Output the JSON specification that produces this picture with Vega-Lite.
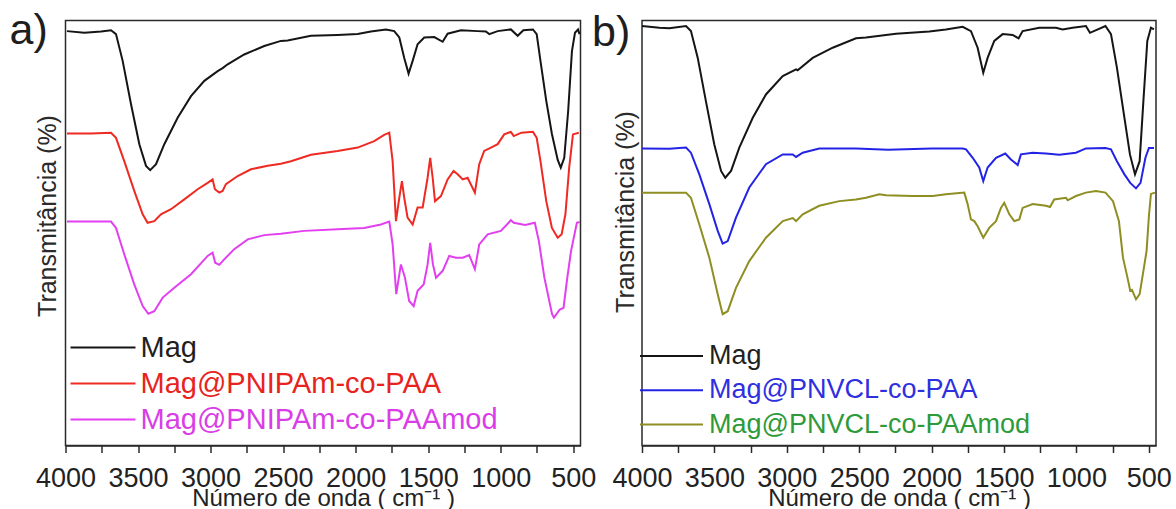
{
  "$schema": "https://vega.github.io/schema/vega-lite/v6.json",
  "background": "white",
  "padding": {"left": 8.5, "top": 8.5, "right": 0, "bottom": 0},
  "spacing": 61.5,
  "bounds": "flush",
  "resolve": {"scale": {"color": "independent"}, "legend": {"color": "independent"}},
  "config": {
    "font": "Liberation Sans",
    "view": {"stroke": "#2a2a2a", "strokeWidth": 1.5},
    "title": {"fontWeight": "normal"},
    "axisX": {
      "format": "d",
      "grid": false,
      "labelFlush": false,
      "labelOverlap": false,
      "labelBound": false,
      "labelFontSize": 27,
      "labelColor": "#222222",
      "tickSize": 7,
      "tickWidth": 1.5,
      "tickColor": "#2a2a2a",
      "domainColor": "#2a2a2a",
      "domainWidth": 1.5,
      "titleFontSize": 24,
      "titleFontWeight": "normal",
      "titleColor": "#222222"
    },
    "axisY": {
      "labels": false,
      "ticks": false,
      "domain": false,
      "grid": false,
      "titleFontSize": 25,
      "titleFontWeight": "normal",
      "titleColor": "#2a2a2a",
      "titlePadding": 5
    },
    "legend": {
      "title": null,
      "orient": "none",
      "symbolType": "M-3,0H3",
      "symbolStrokeWidth": 2,
      "padding": 0,
      "labelLimit": 700
    }
  },
  "hconcat": [
    {
      "width": 515,
      "height": 425,
      "title": {"text": "a)", "anchor": "start", "frame": "group", "align": "left", "baseline": "alphabetic", "offset": -34, "dx": -56, "dy": 32, "fontSize": 43, "color": "#1e1e1e"},
      "data": {"values": [
        {"amostra": "Mag", "onda": 3990, "T": 97.5}, {"amostra": "Mag", "onda": 3870, "T": 97.1}, {"amostra": "Mag", "onda": 3755, "T": 97.4}, {"amostra": "Mag", "onda": 3686, "T": 97.7}, {"amostra": "Mag", "onda": 3652, "T": 96.8}, {"amostra": "Mag", "onda": 3606, "T": 90.5}, {"amostra": "Mag", "onda": 3549, "T": 80.4}, {"amostra": "Mag", "onda": 3491, "T": 70.9}, {"amostra": "Mag", "onda": 3445, "T": 65.8}, {"amostra": "Mag", "onda": 3416, "T": 64.8}, {"amostra": "Mag", "onda": 3376, "T": 66.2}, {"amostra": "Mag", "onda": 3319, "T": 70.9}, {"amostra": "Mag", "onda": 3227, "T": 77.1}, {"amostra": "Mag", "onda": 3135, "T": 82.2}, {"amostra": "Mag", "onda": 3043, "T": 85.8}, {"amostra": "Mag", "onda": 2951, "T": 88.1}, {"amostra": "Mag", "onda": 2917, "T": 88.8}, {"amostra": "Mag", "onda": 2882, "T": 89.7}, {"amostra": "Mag", "onda": 2768, "T": 92.0}, {"amostra": "Mag", "onda": 2630, "T": 94.0}, {"amostra": "Mag", "onda": 2515, "T": 95.2}, {"amostra": "Mag", "onda": 2469, "T": 95.3}, {"amostra": "Mag", "onda": 2308, "T": 96.4}, {"amostra": "Mag", "onda": 2124, "T": 96.6}, {"amostra": "Mag", "onda": 1986, "T": 96.8}, {"amostra": "Mag", "onda": 1895, "T": 97.4}, {"amostra": "Mag", "onda": 1791, "T": 97.9}, {"amostra": "Mag", "onda": 1734, "T": 97.5}, {"amostra": "Mag", "onda": 1699, "T": 96.0}, {"amostra": "Mag", "onda": 1665, "T": 91.2}, {"amostra": "Mag", "onda": 1635, "T": 87.5}, {"amostra": "Mag", "onda": 1607, "T": 90.5}, {"amostra": "Mag", "onda": 1573, "T": 94.4}, {"amostra": "Mag", "onda": 1527, "T": 96.0}, {"amostra": "Mag", "onda": 1458, "T": 96.1}, {"amostra": "Mag", "onda": 1400, "T": 95.0}, {"amostra": "Mag", "onda": 1366, "T": 96.9}, {"amostra": "Mag", "onda": 1274, "T": 97.7}, {"amostra": "Mag", "onda": 1159, "T": 97.5}, {"amostra": "Mag", "onda": 1102, "T": 97.4}, {"amostra": "Mag", "onda": 1079, "T": 96.8}, {"amostra": "Mag", "onda": 1021, "T": 97.5}, {"amostra": "Mag", "onda": 930, "T": 97.9}, {"amostra": "Mag", "onda": 883, "T": 96.4}, {"amostra": "Mag", "onda": 844, "T": 97.7}, {"amostra": "Mag", "onda": 778, "T": 97.9}, {"amostra": "Mag", "onda": 752, "T": 96.8}, {"amostra": "Mag", "onda": 726, "T": 90.5}, {"amostra": "Mag", "onda": 686, "T": 81.1}, {"amostra": "Mag", "onda": 647, "T": 73.3}, {"amostra": "Mag", "onda": 607, "T": 67.2}, {"amostra": "Mag", "onda": 586, "T": 65.4}, {"amostra": "Mag", "onda": 562, "T": 67.7}, {"amostra": "Mag", "onda": 535, "T": 78.7}, {"amostra": "Mag", "onda": 509, "T": 92.8}, {"amostra": "Mag", "onda": 488, "T": 97.1}, {"amostra": "Mag", "onda": 467, "T": 97.9}, {"amostra": "Mag", "onda": 457, "T": 96.8},

        {"amostra": "Mag@PNIPAm-co-PAA", "onda": 3990, "T": 73.4}, {"amostra": "Mag@PNIPAm-co-PAA", "onda": 3824, "T": 73.4}, {"amostra": "Mag@PNIPAm-co-PAA", "onda": 3686, "T": 73.6}, {"amostra": "Mag@PNIPAm-co-PAA", "onda": 3652, "T": 72.4}, {"amostra": "Mag@PNIPAm-co-PAA", "onda": 3595, "T": 66.9}, {"amostra": "Mag@PNIPAm-co-PAA", "onda": 3526, "T": 59.9}, {"amostra": "Mag@PNIPAm-co-PAA", "onda": 3468, "T": 54.4}, {"amostra": "Mag@PNIPAm-co-PAA", "onda": 3434, "T": 52.4}, {"amostra": "Mag@PNIPAm-co-PAA", "onda": 3388, "T": 52.8}, {"amostra": "Mag@PNIPAm-co-PAA", "onda": 3342, "T": 54.4}, {"amostra": "Mag@PNIPAm-co-PAA", "onda": 3273, "T": 55.6}, {"amostra": "Mag@PNIPAm-co-PAA", "onda": 3181, "T": 57.9}, {"amostra": "Mag@PNIPAm-co-PAA", "onda": 3089, "T": 60.3}, {"amostra": "Mag@PNIPAm-co-PAA", "onda": 3020, "T": 61.8}, {"amostra": "Mag@PNIPAm-co-PAA", "onda": 2986, "T": 62.6}, {"amostra": "Mag@PNIPAm-co-PAA", "onda": 2970, "T": 60.3}, {"amostra": "Mag@PNIPAm-co-PAA", "onda": 2940, "T": 59.5}, {"amostra": "Mag@PNIPAm-co-PAA", "onda": 2917, "T": 59.9}, {"amostra": "Mag@PNIPAm-co-PAA", "onda": 2894, "T": 61.5}, {"amostra": "Mag@PNIPAm-co-PAA", "onda": 2813, "T": 63.4}, {"amostra": "Mag@PNIPAm-co-PAA", "onda": 2722, "T": 65.0}, {"amostra": "Mag@PNIPAm-co-PAA", "onda": 2606, "T": 65.8}, {"amostra": "Mag@PNIPAm-co-PAA", "onda": 2515, "T": 66.3}, {"amostra": "Mag@PNIPAm-co-PAA", "onda": 2446, "T": 66.9}, {"amostra": "Mag@PNIPAm-co-PAA", "onda": 2308, "T": 68.4}, {"amostra": "Mag@PNIPAm-co-PAA", "onda": 2124, "T": 69.3}, {"amostra": "Mag@PNIPAm-co-PAA", "onda": 1986, "T": 70.1}, {"amostra": "Mag@PNIPAm-co-PAA", "onda": 1872, "T": 71.6}, {"amostra": "Mag@PNIPAm-co-PAA", "onda": 1803, "T": 73.1}, {"amostra": "Mag@PNIPAm-co-PAA", "onda": 1768, "T": 73.6}, {"amostra": "Mag@PNIPAm-co-PAA", "onda": 1745, "T": 66.9}, {"amostra": "Mag@PNIPAm-co-PAA", "onda": 1722, "T": 52.8}, {"amostra": "Mag@PNIPAm-co-PAA", "onda": 1699, "T": 58.3}, {"amostra": "Mag@PNIPAm-co-PAA", "onda": 1681, "T": 62.2}, {"amostra": "Mag@PNIPAm-co-PAA", "onda": 1665, "T": 58.3}, {"amostra": "Mag@PNIPAm-co-PAA", "onda": 1642, "T": 53.6}, {"amostra": "Mag@PNIPAm-co-PAA", "onda": 1607, "T": 52.0}, {"amostra": "Mag@PNIPAm-co-PAA", "onda": 1573, "T": 56.0}, {"amostra": "Mag@PNIPAm-co-PAA", "onda": 1538, "T": 56.0}, {"amostra": "Mag@PNIPAm-co-PAA", "onda": 1504, "T": 63.0}, {"amostra": "Mag@PNIPAm-co-PAA", "onda": 1486, "T": 67.7}, {"amostra": "Mag@PNIPAm-co-PAA", "onda": 1469, "T": 63.0}, {"amostra": "Mag@PNIPAm-co-PAA", "onda": 1453, "T": 57.5}, {"amostra": "Mag@PNIPAm-co-PAA", "onda": 1412, "T": 58.7}, {"amostra": "Mag@PNIPAm-co-PAA", "onda": 1366, "T": 62.6}, {"amostra": "Mag@PNIPAm-co-PAA", "onda": 1325, "T": 64.6}, {"amostra": "Mag@PNIPAm-co-PAA", "onda": 1297, "T": 63.8}, {"amostra": "Mag@PNIPAm-co-PAA", "onda": 1262, "T": 62.6}, {"amostra": "Mag@PNIPAm-co-PAA", "onda": 1228, "T": 63.0}, {"amostra": "Mag@PNIPAm-co-PAA", "onda": 1178, "T": 59.5}, {"amostra": "Mag@PNIPAm-co-PAA", "onda": 1148, "T": 66.2}, {"amostra": "Mag@PNIPAm-co-PAA", "onda": 1114, "T": 69.3}, {"amostra": "Mag@PNIPAm-co-PAA", "onda": 1067, "T": 70.1}, {"amostra": "Mag@PNIPAm-co-PAA", "onda": 1021, "T": 70.9}, {"amostra": "Mag@PNIPAm-co-PAA", "onda": 976, "T": 73.2}, {"amostra": "Mag@PNIPAm-co-PAA", "onda": 930, "T": 73.8}, {"amostra": "Mag@PNIPAm-co-PAA", "onda": 910, "T": 72.8}, {"amostra": "Mag@PNIPAm-co-PAA", "onda": 857, "T": 73.6}, {"amostra": "Mag@PNIPAm-co-PAA", "onda": 778, "T": 73.8}, {"amostra": "Mag@PNIPAm-co-PAA", "onda": 752, "T": 72.4}, {"amostra": "Mag@PNIPAm-co-PAA", "onda": 726, "T": 66.9}, {"amostra": "Mag@PNIPAm-co-PAA", "onda": 686, "T": 57.5}, {"amostra": "Mag@PNIPAm-co-PAA", "onda": 647, "T": 51.2}, {"amostra": "Mag@PNIPAm-co-PAA", "onda": 607, "T": 48.9}, {"amostra": "Mag@PNIPAm-co-PAA", "onda": 580, "T": 49.7}, {"amostra": "Mag@PNIPAm-co-PAA", "onda": 554, "T": 54.4}, {"amostra": "Mag@PNIPAm-co-PAA", "onda": 528, "T": 65.4}, {"amostra": "Mag@PNIPAm-co-PAA", "onda": 502, "T": 73.2}, {"amostra": "Mag@PNIPAm-co-PAA", "onda": 462, "T": 73.6},

        {"amostra": "Mag@PNIPAm-co-PAAmod", "onda": 3990, "T": 52.7}, {"amostra": "Mag@PNIPAm-co-PAAmod", "onda": 3686, "T": 52.7}, {"amostra": "Mag@PNIPAm-co-PAAmod", "onda": 3652, "T": 51.2}, {"amostra": "Mag@PNIPAm-co-PAAmod", "onda": 3595, "T": 45.0}, {"amostra": "Mag@PNIPAm-co-PAAmod", "onda": 3526, "T": 37.9}, {"amostra": "Mag@PNIPAm-co-PAAmod", "onda": 3468, "T": 32.8}, {"amostra": "Mag@PNIPAm-co-PAAmod", "onda": 3429, "T": 31.0}, {"amostra": "Mag@PNIPAm-co-PAAmod", "onda": 3388, "T": 31.6}, {"amostra": "Mag@PNIPAm-co-PAAmod", "onda": 3330, "T": 34.8}, {"amostra": "Mag@PNIPAm-co-PAAmod", "onda": 3250, "T": 37.1}, {"amostra": "Mag@PNIPAm-co-PAAmod", "onda": 3135, "T": 40.3}, {"amostra": "Mag@PNIPAm-co-PAAmod", "onda": 3020, "T": 44.6}, {"amostra": "Mag@PNIPAm-co-PAAmod", "onda": 2986, "T": 45.4}, {"amostra": "Mag@PNIPAm-co-PAAmod", "onda": 2968, "T": 43.0}, {"amostra": "Mag@PNIPAm-co-PAAmod", "onda": 2940, "T": 42.5}, {"amostra": "Mag@PNIPAm-co-PAAmod", "onda": 2906, "T": 43.8}, {"amostra": "Mag@PNIPAm-co-PAAmod", "onda": 2837, "T": 46.2}, {"amostra": "Mag@PNIPAm-co-PAAmod", "onda": 2744, "T": 48.5}, {"amostra": "Mag@PNIPAm-co-PAAmod", "onda": 2630, "T": 49.5}, {"amostra": "Mag@PNIPAm-co-PAAmod", "onda": 2515, "T": 49.8}, {"amostra": "Mag@PNIPAm-co-PAAmod", "onda": 2354, "T": 50.5}, {"amostra": "Mag@PNIPAm-co-PAAmod", "onda": 2124, "T": 50.9}, {"amostra": "Mag@PNIPAm-co-PAAmod", "onda": 1941, "T": 51.2}, {"amostra": "Mag@PNIPAm-co-PAAmod", "onda": 1826, "T": 52.0}, {"amostra": "Mag@PNIPAm-co-PAAmod", "onda": 1768, "T": 52.7}, {"amostra": "Mag@PNIPAm-co-PAAmod", "onda": 1745, "T": 47.3}, {"amostra": "Mag@PNIPAm-co-PAAmod", "onda": 1720, "T": 35.6}, {"amostra": "Mag@PNIPAm-co-PAAmod", "onda": 1688, "T": 42.6}, {"amostra": "Mag@PNIPAm-co-PAAmod", "onda": 1660, "T": 39.5}, {"amostra": "Mag@PNIPAm-co-PAAmod", "onda": 1631, "T": 34.0}, {"amostra": "Mag@PNIPAm-co-PAAmod", "onda": 1600, "T": 32.8}, {"amostra": "Mag@PNIPAm-co-PAAmod", "onda": 1573, "T": 36.4}, {"amostra": "Mag@PNIPAm-co-PAAmod", "onda": 1531, "T": 37.9}, {"amostra": "Mag@PNIPAm-co-PAAmod", "onda": 1504, "T": 42.6}, {"amostra": "Mag@PNIPAm-co-PAAmod", "onda": 1486, "T": 47.7}, {"amostra": "Mag@PNIPAm-co-PAAmod", "onda": 1467, "T": 42.6}, {"amostra": "Mag@PNIPAm-co-PAAmod", "onda": 1446, "T": 39.5}, {"amostra": "Mag@PNIPAm-co-PAAmod", "onda": 1400, "T": 41.1}, {"amostra": "Mag@PNIPAm-co-PAAmod", "onda": 1355, "T": 44.6}, {"amostra": "Mag@PNIPAm-co-PAAmod", "onda": 1309, "T": 44.2}, {"amostra": "Mag@PNIPAm-co-PAAmod", "onda": 1262, "T": 44.2}, {"amostra": "Mag@PNIPAm-co-PAAmod", "onda": 1217, "T": 44.8}, {"amostra": "Mag@PNIPAm-co-PAAmod", "onda": 1178, "T": 41.5}, {"amostra": "Mag@PNIPAm-co-PAAmod", "onda": 1148, "T": 47.3}, {"amostra": "Mag@PNIPAm-co-PAAmod", "onda": 1090, "T": 49.7}, {"amostra": "Mag@PNIPAm-co-PAAmod", "onda": 999, "T": 50.5}, {"amostra": "Mag@PNIPAm-co-PAAmod", "onda": 930, "T": 53.0}, {"amostra": "Mag@PNIPAm-co-PAAmod", "onda": 910, "T": 52.4}, {"amostra": "Mag@PNIPAm-co-PAAmod", "onda": 831, "T": 51.9}, {"amostra": "Mag@PNIPAm-co-PAAmod", "onda": 765, "T": 52.4}, {"amostra": "Mag@PNIPAm-co-PAAmod", "onda": 737, "T": 48.1}, {"amostra": "Mag@PNIPAm-co-PAAmod", "onda": 699, "T": 39.5}, {"amostra": "Mag@PNIPAm-co-PAAmod", "onda": 646, "T": 30.9}, {"amostra": "Mag@PNIPAm-co-PAAmod", "onda": 633, "T": 30.1}, {"amostra": "Mag@PNIPAm-co-PAAmod", "onda": 593, "T": 32.0}, {"amostra": "Mag@PNIPAm-co-PAAmod", "onda": 567, "T": 32.4}, {"amostra": "Mag@PNIPAm-co-PAAmod", "onda": 541, "T": 39.5}, {"amostra": "Mag@PNIPAm-co-PAAmod", "onda": 515, "T": 45.8}, {"amostra": "Mag@PNIPAm-co-PAAmod", "onda": 475, "T": 52.4}, {"amostra": "Mag@PNIPAm-co-PAAmod", "onda": 455, "T": 52.6}
      ]},
      "mark": {"type": "line", "strokeWidth": 2},
      "encoding": {
        "x": {
          "field": "onda", "type": "quantitative", "scale": {"domain": [4000, 450], "nice": false, "zero": false},
          "axis": {
            "title": "Número de onda ( cm⁻¹ )",
            "values": [4000, 3750, 3500, 3250, 3000, 2750, 2500, 2250, 2000, 1750, 1500, 1250, 1000, 750, 500],
            "labelExpr": "datum.value % 500 === 0 ? datum.label : ''",
            "labelOverlap": false,
            "labelPadding": 13,
            "titlePadding": -5,
            "encode": {"ticks": {"update": {"y2": {"signal": "datum.value % 500 === 0 ? 7 : 4"}}}}
          }
        },
        "y": {"field": "T", "type": "quantitative", "scale": {"domain": [0, 100], "nice": false}, "axis": {"title": "Transmitância (%)", "titleY": 195}},
        "color": {
          "field": "amostra", "type": "nominal",
          "scale": {"domain": ["Mag", "Mag@PNIPAm-co-PAA", "Mag@PNIPAm-co-PAAmod"], "range": ["#151515", "#ee2a22", "#e23ff0"]},
          "legend": {
            "legendX": 23, "legendY": 312.5, "symbolSize": 469, "labelFontSize": 29, "labelOffset": 23, "rowPadding": 6,
            "encode": {"labels": {"update": {"fill": {"signal": "datum.value === 'Mag' ? '#1f1f1f' : datum.value === 'Mag@PNIPAm-co-PAA' ? '#e8231d' : '#d93ee6'"}}}}
          }
        }
      }
    },
    {
      "width": 514,
      "height": 425,
      "title": {"text": "b)", "anchor": "start", "frame": "group", "align": "left", "baseline": "alphabetic", "offset": -34, "dx": -50, "dy": 34, "fontSize": 43, "color": "#1e1e1e"},
      "data": {"values": [
        {"amostra": "Mag", "onda": 4000, "T": 98.7}, {"amostra": "Mag", "onda": 3880, "T": 98.3}, {"amostra": "Mag", "onda": 3811, "T": 98.2}, {"amostra": "Mag", "onda": 3696, "T": 98.7}, {"amostra": "Mag", "onda": 3662, "T": 97.5}, {"amostra": "Mag", "onda": 3615, "T": 91.2}, {"amostra": "Mag", "onda": 3558, "T": 80.9}, {"amostra": "Mag", "onda": 3501, "T": 70.9}, {"amostra": "Mag", "onda": 3454, "T": 64.6}, {"amostra": "Mag", "onda": 3425, "T": 63.0}, {"amostra": "Mag", "onda": 3385, "T": 64.6}, {"amostra": "Mag", "onda": 3328, "T": 70.1}, {"amostra": "Mag", "onda": 3235, "T": 77.1}, {"amostra": "Mag", "onda": 3144, "T": 82.6}, {"amostra": "Mag", "onda": 3028, "T": 86.9}, {"amostra": "Mag", "onda": 2936, "T": 88.5}, {"amostra": "Mag", "onda": 2925, "T": 88.3}, {"amostra": "Mag", "onda": 2821, "T": 91.2}, {"amostra": "Mag", "onda": 2683, "T": 93.6}, {"amostra": "Mag", "onda": 2522, "T": 95.8}, {"amostra": "Mag", "onda": 2453, "T": 96.0}, {"amostra": "Mag", "onda": 2246, "T": 96.9}, {"amostra": "Mag", "onda": 2016, "T": 97.4}, {"amostra": "Mag", "onda": 1901, "T": 97.9}, {"amostra": "Mag", "onda": 1785, "T": 98.5}, {"amostra": "Mag", "onda": 1728, "T": 97.5}, {"amostra": "Mag", "onda": 1682, "T": 93.6}, {"amostra": "Mag", "onda": 1643, "T": 87.7}, {"amostra": "Mag", "onda": 1613, "T": 91.2}, {"amostra": "Mag", "onda": 1567, "T": 95.2}, {"amostra": "Mag", "onda": 1509, "T": 96.8}, {"amostra": "Mag", "onda": 1440, "T": 96.6}, {"amostra": "Mag", "onda": 1399, "T": 95.8}, {"amostra": "Mag", "onda": 1371, "T": 97.5}, {"amostra": "Mag", "onda": 1256, "T": 98.3}, {"amostra": "Mag", "onda": 1141, "T": 98.3}, {"amostra": "Mag", "onda": 1095, "T": 97.9}, {"amostra": "Mag", "onda": 1026, "T": 98.3}, {"amostra": "Mag", "onda": 934, "T": 98.7}, {"amostra": "Mag", "onda": 906, "T": 97.1}, {"amostra": "Mag", "onda": 799, "T": 98.7}, {"amostra": "Mag", "onda": 761, "T": 96.8}, {"amostra": "Mag", "onda": 720, "T": 88.9}, {"amostra": "Mag", "onda": 668, "T": 77.1}, {"amostra": "Mag", "onda": 630, "T": 68.5}, {"amostra": "Mag", "onda": 595, "T": 63.8}, {"amostra": "Mag", "onda": 563, "T": 66.9}, {"amostra": "Mag", "onda": 537, "T": 81.1}, {"amostra": "Mag", "onda": 510, "T": 95.2}, {"amostra": "Mag", "onda": 485, "T": 98.3}, {"amostra": "Mag", "onda": 464, "T": 97.9},

        {"amostra": "Mag@PNVCL-co-PAA", "onda": 4000, "T": 69.9}, {"amostra": "Mag@PNVCL-co-PAA", "onda": 3811, "T": 69.8}, {"amostra": "Mag@PNVCL-co-PAA", "onda": 3696, "T": 70.1}, {"amostra": "Mag@PNVCL-co-PAA", "onda": 3662, "T": 68.9}, {"amostra": "Mag@PNVCL-co-PAA", "onda": 3604, "T": 63.8}, {"amostra": "Mag@PNVCL-co-PAA", "onda": 3535, "T": 56.8}, {"amostra": "Mag@PNVCL-co-PAA", "onda": 3477, "T": 50.5}, {"amostra": "Mag@PNVCL-co-PAA", "onda": 3443, "T": 47.5}, {"amostra": "Mag@PNVCL-co-PAA", "onda": 3408, "T": 48.1}, {"amostra": "Mag@PNVCL-co-PAA", "onda": 3351, "T": 53.6}, {"amostra": "Mag@PNVCL-co-PAA", "onda": 3259, "T": 60.7}, {"amostra": "Mag@PNVCL-co-PAA", "onda": 3144, "T": 66.2}, {"amostra": "Mag@PNVCL-co-PAA", "onda": 3028, "T": 68.5}, {"amostra": "Mag@PNVCL-co-PAA", "onda": 2959, "T": 68.5}, {"amostra": "Mag@PNVCL-co-PAA", "onda": 2936, "T": 67.9}, {"amostra": "Mag@PNVCL-co-PAA", "onda": 2890, "T": 68.9}, {"amostra": "Mag@PNVCL-co-PAA", "onda": 2776, "T": 69.9}, {"amostra": "Mag@PNVCL-co-PAA", "onda": 2522, "T": 69.9}, {"amostra": "Mag@PNVCL-co-PAA", "onda": 2300, "T": 69.6}, {"amostra": "Mag@PNVCL-co-PAA", "onda": 2000, "T": 69.9}, {"amostra": "Mag@PNVCL-co-PAA", "onda": 1785, "T": 69.9}, {"amostra": "Mag@PNVCL-co-PAA", "onda": 1762, "T": 69.7}, {"amostra": "Mag@PNVCL-co-PAA", "onda": 1716, "T": 67.7}, {"amostra": "Mag@PNVCL-co-PAA", "onda": 1671, "T": 65.4}, {"amostra": "Mag@PNVCL-co-PAA", "onda": 1643, "T": 62.2}, {"amostra": "Mag@PNVCL-co-PAA", "onda": 1613, "T": 65.4}, {"amostra": "Mag@PNVCL-co-PAA", "onda": 1555, "T": 67.7}, {"amostra": "Mag@PNVCL-co-PAA", "onda": 1491, "T": 68.7}, {"amostra": "Mag@PNVCL-co-PAA", "onda": 1452, "T": 67.3}, {"amostra": "Mag@PNVCL-co-PAA", "onda": 1405, "T": 66.0}, {"amostra": "Mag@PNVCL-co-PAA", "onda": 1383, "T": 68.5}, {"amostra": "Mag@PNVCL-co-PAA", "onda": 1302, "T": 68.9}, {"amostra": "Mag@PNVCL-co-PAA", "onda": 1210, "T": 68.7}, {"amostra": "Mag@PNVCL-co-PAA", "onda": 1118, "T": 68.4}, {"amostra": "Mag@PNVCL-co-PAA", "onda": 1003, "T": 68.9}, {"amostra": "Mag@PNVCL-co-PAA", "onda": 934, "T": 69.9}, {"amostra": "Mag@PNVCL-co-PAA", "onda": 799, "T": 70.0}, {"amostra": "Mag@PNVCL-co-PAA", "onda": 761, "T": 69.7}, {"amostra": "Mag@PNVCL-co-PAA", "onda": 720, "T": 66.9}, {"amostra": "Mag@PNVCL-co-PAA", "onda": 668, "T": 63.8}, {"amostra": "Mag@PNVCL-co-PAA", "onda": 628, "T": 61.8}, {"amostra": "Mag@PNVCL-co-PAA", "onda": 588, "T": 60.5}, {"amostra": "Mag@PNVCL-co-PAA", "onda": 557, "T": 61.8}, {"amostra": "Mag@PNVCL-co-PAA", "onda": 523, "T": 67.7}, {"amostra": "Mag@PNVCL-co-PAA", "onda": 499, "T": 70.0}, {"amostra": "Mag@PNVCL-co-PAA", "onda": 464, "T": 70.0},

        {"amostra": "Mag@PNVCL-co-PAAmod", "onda": 4000, "T": 59.5}, {"amostra": "Mag@PNVCL-co-PAAmod", "onda": 3696, "T": 59.5}, {"amostra": "Mag@PNVCL-co-PAAmod", "onda": 3662, "T": 58.3}, {"amostra": "Mag@PNVCL-co-PAAmod", "onda": 3604, "T": 52.0}, {"amostra": "Mag@PNVCL-co-PAAmod", "onda": 3535, "T": 44.2}, {"amostra": "Mag@PNVCL-co-PAAmod", "onda": 3477, "T": 35.6}, {"amostra": "Mag@PNVCL-co-PAAmod", "onda": 3443, "T": 30.9}, {"amostra": "Mag@PNVCL-co-PAAmod", "onda": 3408, "T": 31.6}, {"amostra": "Mag@PNVCL-co-PAAmod", "onda": 3351, "T": 37.1}, {"amostra": "Mag@PNVCL-co-PAAmod", "onda": 3259, "T": 43.4}, {"amostra": "Mag@PNVCL-co-PAAmod", "onda": 3144, "T": 48.9}, {"amostra": "Mag@PNVCL-co-PAAmod", "onda": 3028, "T": 52.8}, {"amostra": "Mag@PNVCL-co-PAAmod", "onda": 2959, "T": 53.5}, {"amostra": "Mag@PNVCL-co-PAAmod", "onda": 2936, "T": 52.8}, {"amostra": "Mag@PNVCL-co-PAAmod", "onda": 2890, "T": 54.4}, {"amostra": "Mag@PNVCL-co-PAAmod", "onda": 2776, "T": 56.4}, {"amostra": "Mag@PNVCL-co-PAAmod", "onda": 2637, "T": 57.5}, {"amostra": "Mag@PNVCL-co-PAAmod", "onda": 2522, "T": 57.9}, {"amostra": "Mag@PNVCL-co-PAAmod", "onda": 2453, "T": 58.3}, {"amostra": "Mag@PNVCL-co-PAAmod", "onda": 2361, "T": 59.1}, {"amostra": "Mag@PNVCL-co-PAAmod", "onda": 2315, "T": 58.9}, {"amostra": "Mag@PNVCL-co-PAAmod", "onda": 2131, "T": 58.7}, {"amostra": "Mag@PNVCL-co-PAAmod", "onda": 1992, "T": 58.7}, {"amostra": "Mag@PNVCL-co-PAAmod", "onda": 1901, "T": 59.1}, {"amostra": "Mag@PNVCL-co-PAAmod", "onda": 1774, "T": 59.5}, {"amostra": "Mag@PNVCL-co-PAAmod", "onda": 1751, "T": 56.8}, {"amostra": "Mag@PNVCL-co-PAAmod", "onda": 1728, "T": 53.2}, {"amostra": "Mag@PNVCL-co-PAAmod", "onda": 1705, "T": 52.8}, {"amostra": "Mag@PNVCL-co-PAAmod", "onda": 1682, "T": 51.6}, {"amostra": "Mag@PNVCL-co-PAAmod", "onda": 1643, "T": 48.9}, {"amostra": "Mag@PNVCL-co-PAAmod", "onda": 1602, "T": 51.2}, {"amostra": "Mag@PNVCL-co-PAAmod", "onda": 1555, "T": 52.8}, {"amostra": "Mag@PNVCL-co-PAAmod", "onda": 1521, "T": 55.9}, {"amostra": "Mag@PNVCL-co-PAAmod", "onda": 1498, "T": 57.1}, {"amostra": "Mag@PNVCL-co-PAAmod", "onda": 1463, "T": 54.4}, {"amostra": "Mag@PNVCL-co-PAAmod", "onda": 1429, "T": 52.8}, {"amostra": "Mag@PNVCL-co-PAAmod", "onda": 1394, "T": 53.2}, {"amostra": "Mag@PNVCL-co-PAAmod", "onda": 1371, "T": 55.9}, {"amostra": "Mag@PNVCL-co-PAAmod", "onda": 1302, "T": 56.8}, {"amostra": "Mag@PNVCL-co-PAAmod", "onda": 1210, "T": 56.4}, {"amostra": "Mag@PNVCL-co-PAAmod", "onda": 1182, "T": 56.1}, {"amostra": "Mag@PNVCL-co-PAAmod", "onda": 1153, "T": 57.9}, {"amostra": "Mag@PNVCL-co-PAAmod", "onda": 1072, "T": 58.3}, {"amostra": "Mag@PNVCL-co-PAAmod", "onda": 1060, "T": 57.7}, {"amostra": "Mag@PNVCL-co-PAAmod", "onda": 1003, "T": 58.7}, {"amostra": "Mag@PNVCL-co-PAAmod", "onda": 934, "T": 59.5}, {"amostra": "Mag@PNVCL-co-PAAmod", "onda": 865, "T": 59.9}, {"amostra": "Mag@PNVCL-co-PAAmod", "onda": 799, "T": 59.5}, {"amostra": "Mag@PNVCL-co-PAAmod", "onda": 747, "T": 57.5}, {"amostra": "Mag@PNVCL-co-PAAmod", "onda": 706, "T": 52.8}, {"amostra": "Mag@PNVCL-co-PAAmod", "onda": 678, "T": 44.2}, {"amostra": "Mag@PNVCL-co-PAAmod", "onda": 647, "T": 39.5}, {"amostra": "Mag@PNVCL-co-PAAmod", "onda": 628, "T": 36.4}, {"amostra": "Mag@PNVCL-co-PAAmod", "onda": 616, "T": 36.6}, {"amostra": "Mag@PNVCL-co-PAAmod", "onda": 588, "T": 34.4}, {"amostra": "Mag@PNVCL-co-PAAmod", "onda": 563, "T": 35.6}, {"amostra": "Mag@PNVCL-co-PAAmod", "onda": 537, "T": 41.1}, {"amostra": "Mag@PNVCL-co-PAAmod", "onda": 515, "T": 45.8}, {"amostra": "Mag@PNVCL-co-PAAmod", "onda": 499, "T": 54.0}, {"amostra": "Mag@PNVCL-co-PAAmod", "onda": 485, "T": 59.2}, {"amostra": "Mag@PNVCL-co-PAAmod", "onda": 457, "T": 59.5}
      ]},
      "mark": {"type": "line", "strokeWidth": 2},
      "encoding": {
        "x": {
          "field": "onda", "type": "quantitative", "scale": {"domain": [4000, 450], "nice": false, "zero": false},
          "axis": {
            "title": "Número de onda ( cm⁻¹ )",
            "values": [4000, 3750, 3500, 3250, 3000, 2750, 2500, 2250, 2000, 1750, 1500, 1250, 1000, 750, 500],
            "labelExpr": "datum.value % 500 === 0 ? datum.label : ''",
            "labelOverlap": false,
            "labelPadding": 13,
            "titlePadding": -5,
            "encode": {"ticks": {"update": {"y2": {"signal": "datum.value % 500 === 0 ? 7 : 4"}}}}
          }
        },
        "y": {"field": "T", "type": "quantitative", "scale": {"domain": [0, 100], "nice": false}, "axis": {"title": "Transmitância (%)", "titlePadding": 4, "titleY": 191}},
        "color": {
          "field": "amostra", "type": "nominal",
          "scale": {"domain": ["Mag", "Mag@PNVCL-co-PAA", "Mag@PNVCL-co-PAAmod"], "range": ["#151515", "#2323e6", "#8e8e22"]},
          "legend": {
            "legendX": 16, "legendY": 322, "symbolSize": 441, "labelFontSize": 27, "labelOffset": 24, "rowPadding": 6.3,
            "encode": {"labels": {"update": {"fill": {"signal": "datum.value === 'Mag' ? '#1f1f1f' : datum.value === 'Mag@PNVCL-co-PAA' ? '#2f2fe0' : '#2e9a3a'"}}}}
          }
        }
      }
    }
  ]
}
